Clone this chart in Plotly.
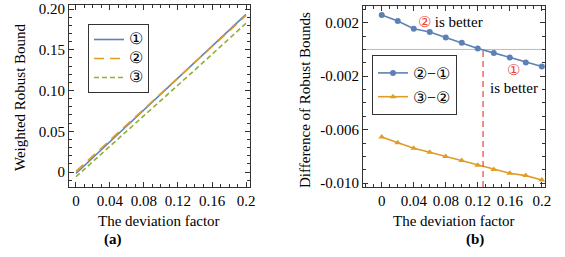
import plotly.graph_objects as go

x = [0, 0.02, 0.04, 0.06, 0.08, 0.10, 0.12, 0.14, 0.16, 0.18, 0.20]
s1 = [-0.0018, 0.0177, 0.0372, 0.0567, 0.0762, 0.0957, 0.1152, 0.1347, 0.1542, 0.1738, 0.1935]
s2 = [0.0008, 0.0198, 0.0388, 0.0580, 0.0771, 0.0962, 0.1153, 0.1344, 0.1536, 0.1728, 0.1922]
s3 = [-0.0058, 0.0128, 0.0314, 0.0503, 0.0691, 0.0879, 0.1067, 0.1254, 0.1444, 0.1634, 0.1825]
d21 = [0.00257, 0.00212, 0.00155, 0.0013, 0.0009, 0.0005, 0.000075, -0.000255, -0.0006, -0.00098, -0.00128]
d32 = [-0.00655, -0.00698, -0.00738, -0.00768, -0.0080, -0.0083, -0.00865, -0.00898, -0.00925, -0.00943, -0.00975]
crossing_x = 0.1266

xticks = [0, 0.04, 0.08, 0.12, 0.16, 0.2]
xticklabels = ["0", "0.04", "0.08", "0.12", "0.16", "0.2"]
ya_ticks = [0, 0.05, 0.10, 0.15, 0.20]
ya_labels = ["0", "0.05", "0.10", "0.15", "0.20"]
yb_ticks = [0.002, -0.002, -0.006, -0.010]
yb_labels = ["0.002", "-0.002", "-0.006", "-0.010"]

BLUE = "#5E81B5"
ORANGE = "#E19C24"
GREEN = "#8FB032"
RED = "#E8443A"
FONT = "Liberation Serif"
FS = 15

def big(t, px):
    return f"<span style='font-size:{px}px'>{t}</span>"

fig = go.Figure()
fig.add_trace(go.Scatter(x=x, y=s1, mode="lines", name=big("①", 16), line=dict(color=BLUE, width=1.6),
                         xaxis="x", yaxis="y", legend="legend"))
fig.add_trace(go.Scatter(x=x, y=s2, mode="lines", name=big("②", 16), line=dict(color=ORANGE, width=1.6, dash="10px,6px"),
                         xaxis="x", yaxis="y", legend="legend"))
fig.add_trace(go.Scatter(x=x, y=s3, mode="lines", name=big("③", 16), line=dict(color=GREEN, width=1.6, dash="5px,3px"),
                         xaxis="x", yaxis="y", legend="legend"))
fig.add_trace(go.Scatter(x=x, y=d21, mode="lines+markers", name=big("②−①", 16), line=dict(color=BLUE, width=1.6),
                         marker=dict(symbol="circle", size=6, color=BLUE),
                         xaxis="x2", yaxis="y2", legend="legend2"))
fig.add_trace(go.Scatter(x=x, y=d32, mode="lines+markers", name=big("③−②", 16), line=dict(color=ORANGE, width=1.6),
                         marker=dict(symbol="triangle-up", size=6, color=ORANGE),
                         xaxis="x2", yaxis="y2", legend="legend2"))

axis_common = dict(showline=True, linecolor="#333333", linewidth=1, mirror="allticks",
                   ticks="inside", ticklen=5, tickcolor="#333333", showgrid=False, zeroline=False,
                   automargin=False, tickangle=0,
                   tickfont=dict(family=FONT, size=FS, color="black"))
minor_x = dict(dtick=0.01, tick0=0, ticks="inside", ticklen=3, tickcolor="#333333")

fig.update_layout(
    template="none",
    width=565, height=257,
    margin=dict(l=0, r=0, t=0, b=0, autoexpand=False),
    paper_bgcolor="white", plot_bgcolor="white",
    font=dict(family=FONT, size=FS, color="black"),
    xaxis=dict(domain=[0.1221, 0.4425], range=[-0.0082, 0.2047], anchor="y",
               tickvals=xticks, ticktext=xticklabels, minor=minor_x, **axis_common),
    yaxis=dict(domain=[0.2724, 0.9805], range=[-0.0184, 0.2049], anchor="x",
               tickvals=ya_ticks, ticktext=ya_labels,
               minor=dict(dtick=0.01, tick0=0, ticks="inside", ticklen=3, tickcolor="#333333"), **axis_common),
    xaxis2=dict(domain=[0.6425, 0.9646], range=[-0.0234, 0.204], anchor="y2",
                tickvals=xticks, ticktext=xticklabels, minor=minor_x, **axis_common),
    yaxis2=dict(domain=[0.2724, 0.9767], range=[-0.01028, 0.00325], anchor="x2",
                tickvals=yb_ticks, ticktext=yb_labels,
                minor=dict(dtick=0.001, tick0=0, ticks="inside", ticklen=3, tickcolor="#333333"), **axis_common),
    legend=dict(x=88 / 565, y=1 - 24 / 257, xref="paper", yref="paper", xanchor="left", yanchor="top",
                bgcolor="white", bordercolor="#333333", borderwidth=1, font=dict(family=FONT, size=12),
                tracegroupgap=0, itemwidth=30),
    legend2=dict(x=372 / 565, y=1 - 55 / 257, xref="paper", yref="paper", xanchor="left", yanchor="top",
                 bgcolor="white", bordercolor="#333333", borderwidth=1, font=dict(family=FONT, size=16),
                 tracegroupgap=0, itemwidth=30),
    showlegend=True,
)

fig.add_shape(type="line", xref="x2 domain", yref="y2", x0=0, x1=1, y0=0, y1=0,
              line=dict(color="#BBBBBB", width=1), layer="below")
fig.add_shape(type="line", xref="x2", yref="y2", x0=crossing_x, x1=crossing_x, y0=-0.01028, y1=-0.00005,
              line=dict(color=RED, width=1.2, dash="6px,4px"))

ann = [
    dict(text="The deviation factor", x=0.2823, y=1 - 221 / 257, size=15),
    dict(text="The deviation factor", x=0.8035, y=1 - 221 / 257, size=15),
    dict(text="<b>(a)</b>", x=113 / 565, y=1 - 239 / 257, size=15),
    dict(text="<b>(b)</b>", x=475 / 565, y=1 - 239 / 257, size=15),
    dict(text="Weighted Robust Bound", x=20 / 565, y=1 - 97 / 257, textangle=-90, size=15),
    dict(text="Difference of Robust Bounds", x=305 / 565, y=1 - 100 / 257, textangle=-90, size=15),
    dict(text=f"<span style='color:{RED}'>②</span> is better", x=450 / 565, y=1 - 22 / 257, size=15),
    dict(text=f"<span style='color:{RED}'>①</span>", x=513 / 565, y=1 - 70 / 257, size=15),
    dict(text="is better", x=514 / 565, y=1 - 88 / 257, size=15),
]
for a in ann:
    s = a.pop("size")
    fig.add_annotation(xref="paper", yref="paper", showarrow=False, xanchor="center", yanchor="middle",
                       font=dict(family=FONT, size=s, color="black"), **a)

fig.write_html("out.html", config={"displayModeBar": False},
               post_script="document.body.style.margin='0';document.body.style.overflow='hidden';")
